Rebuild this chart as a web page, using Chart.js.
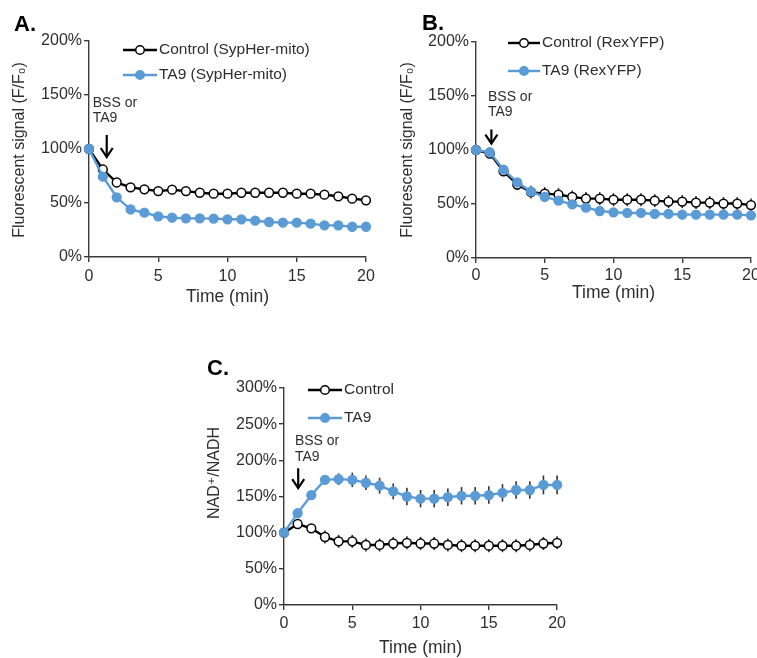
<!DOCTYPE html>
<html><head><meta charset="utf-8">
<script src="https://cdn.jsdelivr.net/npm/chart.js@4/dist/chart.umd.min.js"></script>
<style>
html,body{margin:0;padding:0;background:#fff;overflow:hidden;width:757px;height:658px;}
canvas{position:absolute;}
</style></head><body>
<canvas id="cA" width="380" height="320" style="left:0;top:0"></canvas>
<canvas id="cB" width="390" height="320" style="left:380px;top:0"></canvas>
<canvas id="cC" width="380" height="328" style="left:190px;top:330px"></canvas>
<script>
// ---- data ----
const time = [0,1,2,3,4,5,6,7,8,9,10,11,12,13,14,15,16,17,18,19,20];
const xTicks = [0,5,10,15,20];
const yTicksAB = [0,50,100,150,200];
const yTicksC = [0,50,100,150,200,250,300];

const aControl = [100,81,69,64.5,62.7,61,62.3,61,59.5,58.6,58.6,59.5,59.5,59.5,59.5,58.6,58.6,57.7,56.2,54,52.5];
const aTA9     = [100,74.4,55.3,44,41,37.7,36.4,35.8,35.8,35.5,34.9,34.9,33.6,32.4,31.8,31.8,30.9,29.3,29.3,28,28];

const bControl    = [100,96.7,80.3,68,61,59.6,58.7,56.5,55,55,54,54,54,53.1,52.2,52.2,51.3,51.3,50.4,50.4,49];
const bControlErr = [0,2,4,5,6,6,6,6,6,6,6,6,6,6,6,6,6,6,6,6,6];
const bTA9        = [100,97.9,81.9,70,61.5,56.5,53.1,49.7,46.6,43.5,42.3,41.7,41.7,40.8,40.8,40.2,40.2,40.2,40.2,40.2,39.5];
const bTA9Err     = [0,2,2,2,2,2,2,2,2,2,2,2,2,2,2,2,2,2,2,2,2];

const cControl    = [100,112,106,94,88,88,83,83,85,86,85,85,83,82,82,82,82,82,83,85,86];
const cControlErr = [0,3,5,9,9,9,9,9,9,9,9,9,9,9,9,9,9,9,9,9,9];
const cTA9        = [100,127,152,173,174,173,169,165,157,150,147,147,149,151,151,152,155,159,159,166,166];
const cTA9Err     = [0,3,4,5,8,10,10,11,11,12,12,12,12,12,12,12,12,12,12,13,13];

// ---- style ----
const FONT = "'Liberation Sans', Arial, 'DejaVu Sans', sans-serif";
const TXT = '#2e2e2e';
const AX = '#3a3a3a';
const BLUE = '#5B9BD5';
const BLACK = '#000000';

const decor = {
  id: 'decor',
  beforeDatasetsDraw(chart, args, o) {
    const ctx = chart.ctx, xs = chart.scales.x, ys = chart.scales.y;
    ctx.save();
    ctx.strokeStyle = '#333';
    ctx.lineWidth = 1.6;
    chart.data.datasets.forEach((ds, i) => {
      const err = o.errors && o.errors[i];
      if (!err) return;
      ds.data.forEach((pt, j) => {
        if (!err[j]) return;
        const x = xs.getPixelForValue(pt.x);
        ctx.beginPath();
        ctx.moveTo(x, ys.getPixelForValue(pt.y + err[j]));
        ctx.lineTo(x, ys.getPixelForValue(pt.y - err[j]));
        ctx.stroke();
      });
    });
    ctx.restore();
  },
  afterDraw(chart, args, o) {
    const ctx = chart.ctx, xs = chart.scales.x, ys = chart.scales.y, ca = chart.chartArea;
    ctx.save();
    // panel label
    ctx.fillStyle = '#000';
    ctx.font = 'bold 22px ' + FONT;
    ctx.textAlign = 'left'; ctx.textBaseline = 'alphabetic';
    ctx.fillText(o.panel, o.panelX, o.panelY);
    // x title
    ctx.fillStyle = TXT;
    ctx.font = '17.5px ' + FONT;
    ctx.textAlign = 'center'; ctx.textBaseline = 'middle';
    ctx.fillText(o.xTitle, (ca.left + ca.right) / 2, o.xTitleY);
    // y title
    ctx.save();
    ctx.translate(o.yTitleX, o.yTitleY);
    ctx.rotate(-Math.PI / 2);
    ctx.font = '16px ' + FONT;
    ctx.fillText(o.yTitle, 0, 0);
    ctx.restore();
    // legend
    ctx.font = '15.5px ' + FONT;
    ctx.textAlign = 'left';
    o.legendRows.forEach((y, i) => {
      const ds = chart.data.datasets[i];
      ctx.strokeStyle = ds.borderColor; ctx.lineWidth = 2.4;
      ctx.beginPath(); ctx.moveTo(o.legendX0, y); ctx.lineTo(o.legendX1, y); ctx.stroke();
      const mx = (o.legendX0 + o.legendX1) / 2;
      ctx.beginPath(); ctx.arc(mx, y, 4.3, 0, Math.PI * 2);
      ctx.fillStyle = ds.pointBackgroundColor; ctx.fill();
      ctx.lineWidth = 1.5; ctx.strokeStyle = ds.pointBorderColor; ctx.stroke();
      ctx.fillStyle = TXT;
      ctx.fillText(ds.label, o.legendX1 + 2, y);
    });
    // annotation
    const n = o.note;
    ctx.font = '14px ' + FONT;
    ctx.fillStyle = TXT;
    const tx = xs.getPixelForValue(n.textX);
    ctx.fillText(n.lines[0], tx, ys.getPixelForValue(n.line1Y));
    ctx.fillText(n.lines[1], tx, ys.getPixelForValue(n.line2Y));
    const ax = xs.getPixelForValue(n.arrowX);
    const ay0 = ys.getPixelForValue(n.arrowTop), ay1 = ys.getPixelForValue(n.arrowTip);
    ctx.strokeStyle = '#000'; ctx.lineWidth = 2.2;
    ctx.beginPath(); ctx.moveTo(ax, ay0); ctx.lineTo(ax, ay1 - 1); ctx.stroke();
    ctx.beginPath(); ctx.moveTo(ax - 6, ay1 - 9); ctx.lineTo(ax, ay1); ctx.lineTo(ax + 6, ay1 - 9); ctx.stroke();
    ctx.restore();
  }
};

function series(label, values, color, fill, order) {
  return {
    label, data: values.map((v, j) => ({x: time[j], y: v})),
    borderColor: color, backgroundColor: fill,
    pointBackgroundColor: fill, pointBorderColor: color,
    pointRadius: 4.4, pointBorderWidth: 1.5, borderWidth: 2.4, tension: 0,
    clip: false, order
  };
}

function build(id, p) {
  return new Chart(document.getElementById(id), {
    type: 'line',
    data: { datasets: p.datasets },
    options: {
      responsive: false, animation: false, devicePixelRatio: 1,
      layout: { padding: { left: 0, right: p.padRight, top: p.padTop, bottom: 0 } },
      plugins: { legend: { display: false }, tooltip: { enabled: false }, decor: p.decor },
      scales: {
        x: {
          type: 'linear', min: 0, max: 20,
          afterBuildTicks: s => { s.ticks = xTicks.map(v => ({value: v})); },
          ticks: { font: { family: FONT, size: 16 }, color: TXT, padding: p.xPad, maxRotation: 0, autoSkip: false },
          grid: { drawOnChartArea: false, tickLength: 5, color: AX, lineWidth: 1.4 },
          border: { color: AX, width: 1.4 },
          afterFit: s => { s.height = p.xHeight; }
        },
        y: {
          type: 'linear', min: 0, max: p.yMax,
          afterBuildTicks: s => { s.ticks = p.yTicks.map(v => ({value: v})); },
          ticks: { font: { family: FONT, size: 16 }, color: TXT, padding: 2, callback: v => v + '%', autoSkip: false },
          grid: { drawOnChartArea: false, tickLength: 5, color: AX, lineWidth: 1.4 },
          border: { color: AX, width: 1.4 },
          afterFit: s => { s.width = p.yWidth; }
        }
      }
    },
    plugins: [decor]
  });
}

build('cA', {
  datasets: [series('Control (SypHer-mito)', aControl, BLACK, '#ffffff', 2),
             series('TA9 (SypHer-mito)', aTA9, BLUE, BLUE, 1)],
  yMax: 200, yTicks: yTicksAB, padRight: 14, padTop: 41, yWidth: 89, xHeight: 63, xPad: 5,
  decor: {
    panel: 'A.', panelX: 14, panelY: 31,
    xTitle: 'Time (min)', xTitleY: 297,
    yTitle: 'Fluorescent signal (F/F\u2080)', yTitleX: 20, yTitleY: 150,
    legendRows: [50, 75], legendX0: 123, legendX1: 157,
    errors: [null, null],
    note: { lines: ['BSS or', 'TA9'], textX: 0.27, line1Y: 142.6, line2Y: 128.7, arrowX: 1.28, arrowTop: 113, arrowTip: 92.6 }
  }
});

build('cB', {
  datasets: [series('Control (RexYFP)', bControl, BLACK, '#ffffff', 2),
             series('TA9 (RexYFP)', bTA9, BLUE, BLUE, 1)],
  yMax: 200, yTicks: yTicksAB, padRight: 19, padTop: 42, yWidth: 96, xHeight: 62, xPad: 3,
  decor: {
    panel: 'B.', panelX: 42, panelY: 30,
    xTitle: 'Time (min)', xTitleY: 293,
    yTitle: 'Fluorescent signal (F/F\u2080)', yTitleX: 28, yTitleY: 150,
    legendRows: [43, 71], legendX0: 128, legendX1: 160,
    errors: [bControlErr, bTA9Err],
    note: { lines: ['BSS or', 'TA9'], textX: 0.87, line1Y: 149, line2Y: 135, arrowX: 1.12, arrowTop: 119, arrowTip: 106 }
  }
});

build('cC', {
  datasets: [series('Control', cControl, BLACK, '#ffffff', 2),
             series('TA9', cTA9, BLUE, BLUE, 1)],
  yMax: 300, yTicks: yTicksC, padRight: 11, padTop: 58, yWidth: 94, xHeight: 53, xPad: 4,
  decor: {
    panel: 'C.', panelX: 17, panelY: 45,
    xTitle: 'Time (min)', xTitleY: 318,
    yTitle: 'NAD\u207A/NADH', yTitleX: 25, yTitleY: 143,
    legendRows: [60, 88], legendX0: 118, legendX1: 152,
    errors: [cControlErr, cTA9Err],
    note: { lines: ['BSS or', 'TA9'], textX: 0.8, line1Y: 226, line2Y: 205, arrowX: 1.04, arrowTop: 189, arrowTip: 161.6 }
  }
});
</script>
</body></html>
